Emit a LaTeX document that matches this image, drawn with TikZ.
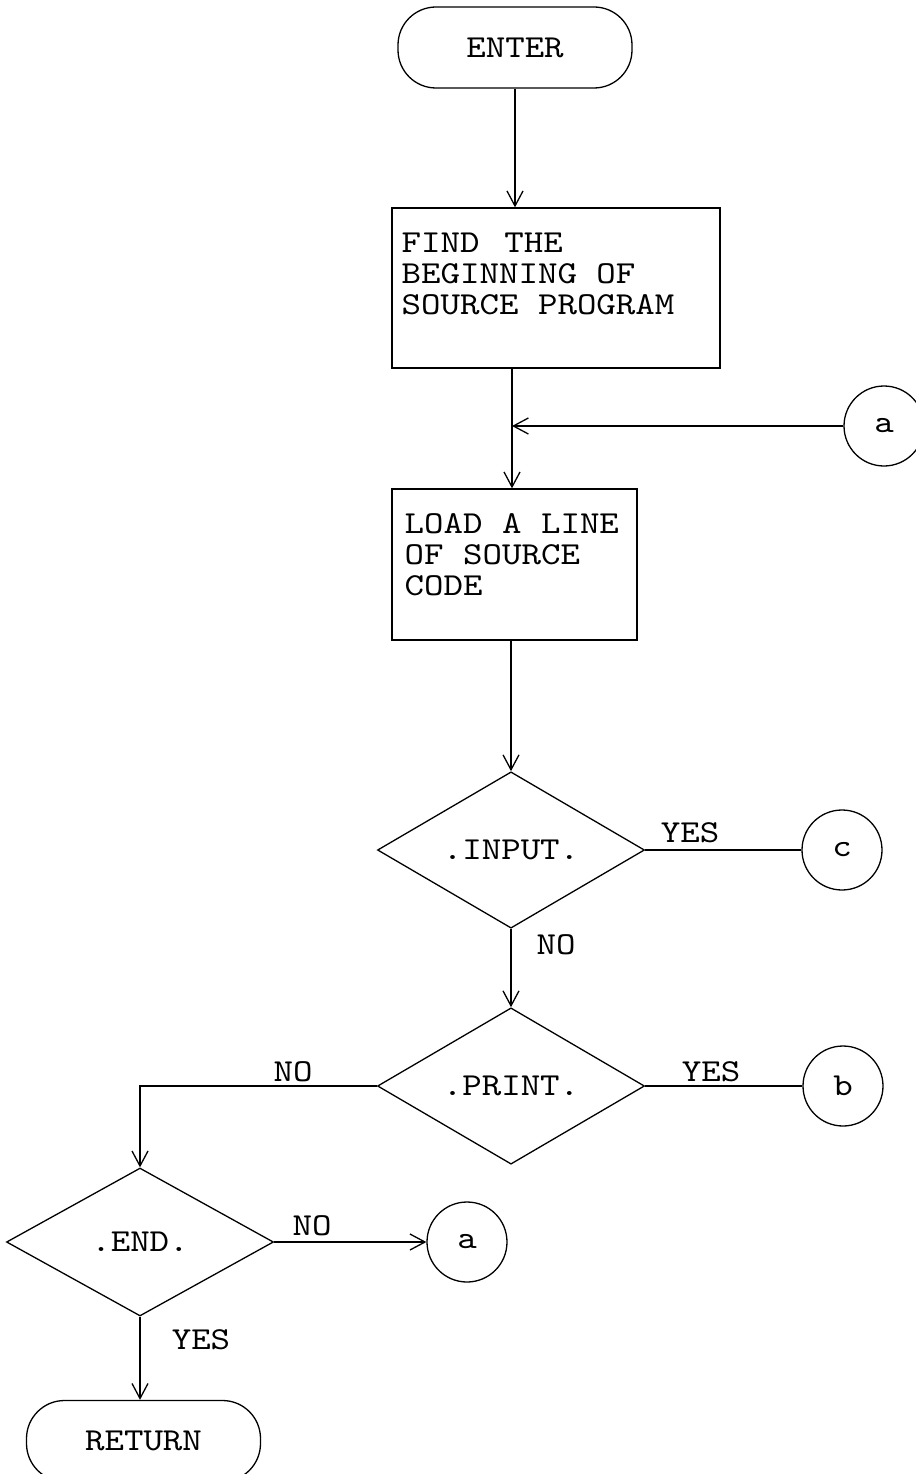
\documentclass[tikz,border=0pt]{standalone}
\usepackage{fontspec}
\newfontfamily\tw{lmmono10-regular.otf}[FakeStretch=1.16]
\usetikzlibrary{shapes.geometric,arrows.meta}
\begin{document}
\begin{tikzpicture}[x=1pt,y=-1pt,line width=1.3pt,
  lbl/.style={font=\tw\fontsize{32}{31}\selectfont, inner sep=0pt},
  terminal/.style={draw, rectangle, rounded corners=38pt, minimum width=234pt, minimum height=81pt, lbl},
  procbox/.style={draw, rectangle, inner sep=0pt},
  decision/.style={draw, diamond, lbl, minimum width=267pt, minimum height=150pt},
  conn/.style={draw, circle, lbl, minimum size=80pt},
  arr/.style={-{Straight Barb[length=15pt,width=16pt]}}]
\useasboundingbox (0,0) rectangle (915,1474);
\fill[white] (0,0) rectangle (915,1474);

% start
\node[terminal] (enter) at (515,47.5) {ENTER};

% first process step
\node[procbox, minimum width=328pt, minimum height=160pt] (find) at (556,288) {};
\node[lbl, anchor=north west, align=left] (findtxt) at (401,232) {FIND\ \,THE\\BEGINNING OF\\SOURCE PROGRAM};

% loop entry point
\coordinate (join) at (512,426);
\node[conn] (a1) at (884,426) {a};

% second process step
\node[procbox, minimum width=245pt, minimum height=151pt] (load) at (514.5,564.5) {};
\node[lbl, anchor=north west, align=left] (loadtxt) at (404,513) {LOAD A LINE\\OF SOURCE\\CODE};

% decisions and off-page connectors
\node[decision, minimum height=156pt] (input) at (511,850) {.INPUT.};
\node[conn] (c) at (842,850) {c};
\node[decision, minimum height=148pt] (print) at (511,1086) {.PRINT.};
\node[conn] (b) at (843,1086) {b};
\node[decision, minimum height=148pt] (endd) at (140,1242) {.END.};
\node[conn] (a2) at (467,1242) {a};

% exit
\node[terminal] (ret) at (143.5,1441) {RETURN};

% connectors
\draw[arr] (enter.south) -- (enter.south |- find.north);
\draw[arr] (join |- find.south) -- (join |- load.north);
\draw[arr] (a1.west) -- (join);
\draw[arr] (input.north |- load.south) -- (input.north);
\draw (input.east) -- (c.west);
\draw[arr] (input.south) -- (print.north);
\draw (print.east) -- (b.west);
\draw[arr] (print.west) -| (endd.north);
\draw[arr] (endd.east) -- (a2.west);
\draw[arr] (endd.south) -- (endd.south |- ret.north);

% branch labels
\node[lbl] (yes1) at (690,833) {YES};
\node[lbl] (no1) at (556,945) {NO};
\node[lbl] (yes2) at (711,1072) {YES};
\node[lbl] (no2) at (293,1072) {NO};
\node[lbl] (no3) at (312,1226) {NO};
\node[lbl] (yes3) at (201,1340) {YES};
\end{tikzpicture}
\end{document}
